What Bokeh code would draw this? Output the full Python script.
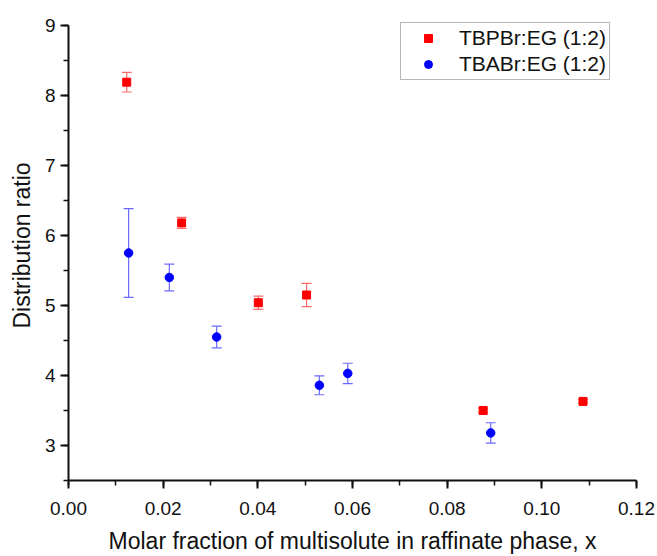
from bokeh.plotting import figure
from bokeh.models import (ColumnDataSource, Whisker, TeeHead, Legend, LegendItem,
                          NumeralTickFormatter, SingleIntervalTicker, Range1d)
from bokeh.embed import file_html
from bokeh.resources import INLINE

# ---- data ----
red_label = "TBPBr:EG (1:2)"
red_x = [0.0123, 0.0239, 0.0401, 0.0503, 0.0876, 0.1087]
red_y = [8.19, 6.18, 5.04, 5.15, 3.50, 3.63]
red_err = [0.14, 0.08, 0.095, 0.165, 0.035, 0.025]

blue_label = "TBABr:EG (1:2)"
blue_x = [0.0127, 0.0213, 0.0313, 0.0530, 0.0590, 0.0892]
blue_y = [5.75, 5.40, 4.55, 3.86, 4.03, 3.18]
blue_err = [0.635, 0.19, 0.155, 0.135, 0.145, 0.145]

x_label = "Molar fraction of multisolute in raffinate phase, x"
y_label = "Distribution ratio"

FONT = "Liberation Sans"

p = figure(width=657, height=556, output_backend="svg", toolbar_location=None,
           x_range=Range1d(0, 0.12), y_range=Range1d(2.5, 9.214),
           min_border_left=68, min_border_right=21, min_border_top=10,
           min_border_bottom=72)
p.outline_line_color = None
p.xgrid.visible = False
p.ygrid.visible = False
p.background_fill_color = "white"
p.border_fill_color = "white"

p.xaxis.ticker = SingleIntervalTicker(interval=0.02, num_minor_ticks=2)
p.yaxis.ticker = SingleIntervalTicker(interval=1, num_minor_ticks=2)
p.xaxis.formatter = NumeralTickFormatter(format="0.00")
p.yaxis.formatter = NumeralTickFormatter(format="0")
p.yaxis.bounds = (2.5, 9)

for ax in (p.xaxis, p.yaxis):
    ax.axis_line_width = 2
    ax.axis_line_color = "#111111"
    ax.major_tick_line_width = 2
    ax.major_tick_line_color = "#111111"
    ax.minor_tick_line_width = 1.5
    ax.minor_tick_line_color = "#111111"
    ax.major_tick_out = 8
    ax.major_tick_in = 0
    ax.minor_tick_out = 5
    ax.minor_tick_in = 0
    ax.major_label_text_font = FONT
    ax.major_label_text_font_size = "19px"
    ax.major_label_text_color = "#111111"
    ax.axis_label_text_font = FONT
    ax.axis_label_text_font_size = "23px"
    ax.axis_label_text_font_style = "normal"
    ax.axis_label_text_color = "#111111"

p.xaxis.axis_label = x_label
p.yaxis.axis_label = y_label
p.xaxis.major_label_standoff = 13
p.xaxis.axis_label_standoff = 10
p.yaxis.major_label_standoff = 5
p.yaxis.axis_label_standoff = 7

red_src = ColumnDataSource(dict(x=red_x, y=red_y,
                                lo=[y - e for y, e in zip(red_y, red_err)],
                                hi=[y + e for y, e in zip(red_y, red_err)]))
blue_src = ColumnDataSource(dict(x=blue_x, y=blue_y,
                                 lo=[y - e for y, e in zip(blue_y, blue_err)],
                                 hi=[y + e for y, e in zip(blue_y, blue_err)]))

for src, col in ((red_src, "#ff6b6b"), (blue_src, "#6b6bff")):
    w = Whisker(source=src, base="x", lower="lo", upper="hi", dimension="height",
                line_color=col, line_width=1.2, level="underlay",
                upper_head=TeeHead(size=10, line_color=col, line_width=1.2),
                lower_head=TeeHead(size=10, line_color=col, line_width=1.2))
    p.add_layout(w)

r_red = p.scatter("x", "y", source=red_src, marker="square", size=8,
                  fill_color="#ff0000", line_color="#ff0000")
r_blue = p.scatter("x", "y", source=blue_src, marker="circle", size=8.5,
                   fill_color="#0000ff", line_color="#0000ff")

legend = Legend(items=[LegendItem(label=red_label, renderers=[r_red]),
                       LegendItem(label=blue_label, renderers=[r_blue])],
                location=(332, 400), padding=3, spacing=2,
                label_height=20, glyph_height=20, glyph_width=48,
                label_standoff=7, margin=0,
                label_text_font=FONT, label_text_font_size="21px",
                label_text_color="#111111",
                border_line_color="#6e6e6e", border_line_width=1.5,
                background_fill_color="white", background_fill_alpha=1)
p.add_layout(legend, "center")

open("out.html", "w").write(file_html(p, INLINE))
